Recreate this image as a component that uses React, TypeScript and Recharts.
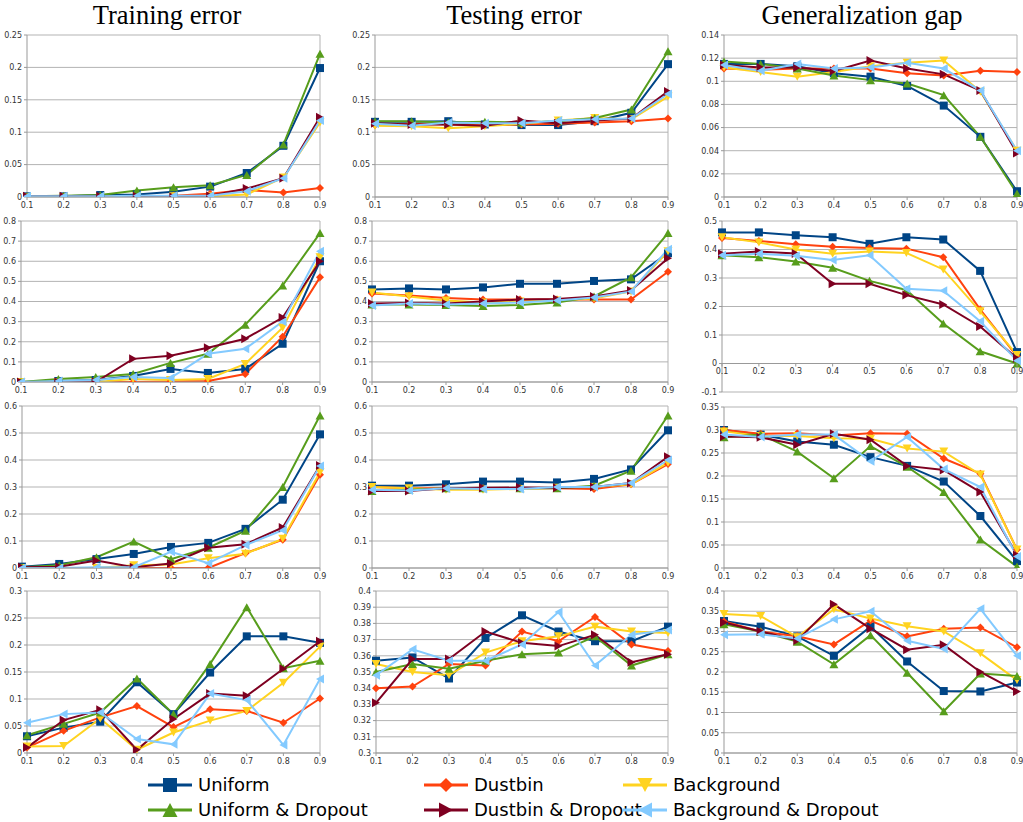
import React from 'react';
import { CartesianGrid, Line, LineChart, ReferenceLine, XAxis, YAxis } from 'recharts';

const xLabels = ['0.1', '0.2', '0.3', '0.4', '0.5', '0.6', '0.7', '0.8', '0.9'];

const seriesNames = [
  'Uniform',
  'Dustbin',
  'Background',
  'Uniform & Dropout',
  'Dustbin & Dropout',
  'Background & Dropout',
];
const seriesColors = ['#004586', '#ff420e', '#ffd320', '#579d1c', '#7e0021', '#83caff'];
const seriesShapes = ['square', 'diamond', 'down', 'up', 'right', 'left'];

const columnTitles = ['Training error', 'Testing error', 'Generalization gap'];

// each panel: one list per series, same order as seriesNames
const trainRow1 = [
  [0.001, 0.001, 0.003, 0.004, 0.008, 0.016, 0.037, 0.079, 0.199],
  [0.0, 0.0, 0.0, 0.0, 0.002, 0.005, 0.011, 0.007, 0.014],
  [0.0, 0.0, 0.0, 0.001, 0.001, 0.001, 0.004, 0.03, 0.115],
  [0.001, 0.002, 0.003, 0.01, 0.015, 0.018, 0.034, 0.081, 0.221],
  [0.001, 0.001, 0.001, 0.001, 0.0, 0.002, 0.013, 0.029, 0.123],
  [0.001, 0.001, 0.001, 0.002, 0.002, 0.002, 0.009, 0.029, 0.118],
];
const testRow1 = [
  [0.116, 0.116, 0.117, 0.112, 0.111, 0.111, 0.117, 0.13, 0.205],
  [0.111, 0.113, 0.112, 0.111, 0.112, 0.113, 0.115, 0.117, 0.121],
  [0.11, 0.109, 0.106, 0.109, 0.113, 0.118, 0.122, 0.12, 0.155],
  [0.117, 0.117, 0.115, 0.116, 0.115, 0.117, 0.122, 0.135, 0.225],
  [0.114, 0.112, 0.112, 0.11, 0.118, 0.114, 0.118, 0.121, 0.163],
  [0.113, 0.11, 0.115, 0.114, 0.114, 0.118, 0.12, 0.121, 0.159],
];
const gapRow1 = [
  [0.115, 0.115, 0.113, 0.107, 0.104, 0.096, 0.079, 0.052, 0.005],
  [0.111, 0.11, 0.111, 0.111, 0.111, 0.107, 0.105, 0.109, 0.108],
  [0.112, 0.108, 0.104, 0.108, 0.113, 0.116, 0.118, 0.091, 0.04],
  [0.117, 0.115, 0.111, 0.105, 0.101, 0.098, 0.088, 0.052, 0.003],
  [0.114, 0.112, 0.112, 0.109, 0.118, 0.111, 0.106, 0.092, 0.038],
  [0.114, 0.109, 0.115, 0.111, 0.112, 0.116, 0.111, 0.092, 0.04],
];

const trainRow2 = [
  [0.0, 0.005, 0.01, 0.03, 0.065, 0.045, 0.065, 0.19, 0.6],
  [0.0, 0.0, 0.0, 0.0, 0.003, 0.005, 0.04, 0.225, 0.52],
  [0.0, 0.0, 0.0, 0.015, 0.01, 0.015, 0.09, 0.27, 0.62],
  [0.0, 0.015, 0.025, 0.04, 0.095, 0.14, 0.285, 0.48, 0.74],
  [0.0, 0.0, 0.0, 0.115, 0.13, 0.17, 0.215, 0.32, 0.6],
  [0.0, 0.005, 0.01, 0.025, 0.02, 0.14, 0.165, 0.3, 0.65],
];
const testRow2 = [
  [0.46, 0.465, 0.46, 0.47, 0.488, 0.488, 0.502, 0.51, 0.64],
  [0.44, 0.43, 0.418, 0.41, 0.41, 0.41, 0.41, 0.41, 0.548],
  [0.445, 0.425, 0.405, 0.395, 0.4, 0.405, 0.415, 0.45, 0.65],
  [0.385, 0.385, 0.383, 0.378, 0.383, 0.395, 0.425, 0.52, 0.74],
  [0.39, 0.393, 0.39, 0.4, 0.41, 0.412, 0.425, 0.455, 0.615],
  [0.38, 0.39, 0.385, 0.39, 0.395, 0.405, 0.42, 0.45, 0.66],
];
const gapRow2 = [
  [0.46, 0.46, 0.45, 0.443, 0.42, 0.443, 0.435, 0.325, 0.04],
  [0.44, 0.43, 0.418, 0.41, 0.405, 0.403, 0.373, 0.19, 0.025],
  [0.443, 0.425, 0.4, 0.385, 0.393, 0.388, 0.33, 0.183, 0.03],
  [0.38, 0.373, 0.358, 0.336, 0.29, 0.258, 0.14, 0.043, 0.0],
  [0.385, 0.393, 0.386, 0.28, 0.28, 0.24, 0.207, 0.13, 0.018],
  [0.38, 0.385, 0.378, 0.363, 0.38, 0.262, 0.255, 0.148, 0.01],
];

const trainRow3 = [
  [0.005, 0.015, 0.033, 0.052, 0.078, 0.093, 0.145, 0.253, 0.495],
  [0.0, 0.0, 0.0, 0.0, 0.0, 0.0, 0.055, 0.105, 0.345],
  [0.0, 0.0, 0.0, 0.01, 0.013, 0.036, 0.053, 0.108, 0.355],
  [0.003, 0.01, 0.04, 0.098, 0.033, 0.075, 0.138, 0.3, 0.565],
  [0.003, 0.005, 0.028, 0.003, 0.017, 0.075, 0.088, 0.15, 0.38],
  [0.0, 0.0, 0.003, 0.003, 0.06, 0.018, 0.085, 0.14, 0.378],
];
const testRow3 = [
  [0.305, 0.305, 0.31, 0.32, 0.32, 0.317, 0.33, 0.365, 0.51],
  [0.3, 0.295, 0.295, 0.295, 0.295, 0.295, 0.293, 0.31, 0.385],
  [0.3, 0.295, 0.29, 0.29, 0.293, 0.297, 0.3, 0.31, 0.39],
  [0.285, 0.29, 0.295, 0.295, 0.295, 0.295, 0.305, 0.36, 0.565],
  [0.285, 0.285, 0.295, 0.297, 0.298, 0.297, 0.3, 0.315, 0.412],
  [0.29, 0.287, 0.295, 0.293, 0.293, 0.3, 0.3, 0.315, 0.4],
];
const gapRow3 = [
  [0.3, 0.29, 0.275, 0.268, 0.241, 0.222, 0.188, 0.113, 0.015],
  [0.3, 0.292, 0.293, 0.288, 0.293, 0.292, 0.238, 0.205, 0.04],
  [0.297, 0.287, 0.287, 0.282, 0.281, 0.26, 0.253, 0.203, 0.04],
  [0.284, 0.29, 0.253, 0.195, 0.265, 0.22, 0.165, 0.062, 0.003],
  [0.286, 0.284, 0.268, 0.292, 0.279, 0.222, 0.213, 0.165, 0.028],
  [0.29, 0.285, 0.29, 0.29, 0.232, 0.285, 0.215, 0.176, 0.025],
];

const trainRow4 = [
  [0.031, 0.047, 0.058, 0.131, 0.072, 0.149, 0.216, 0.216, 0.204],
  [0.01, 0.041, 0.066, 0.087, 0.048, 0.081, 0.078, 0.056, 0.101],
  [0.012, 0.013, 0.064, 0.006, 0.038, 0.06, 0.078, 0.13, 0.197],
  [0.033, 0.054, 0.075, 0.138, 0.072, 0.165, 0.27, 0.157, 0.171],
  [0.01, 0.061, 0.08, 0.006, 0.063, 0.11, 0.106, 0.156, 0.207],
  [0.056, 0.072, 0.075, 0.026, 0.016, 0.11, 0.098, 0.015, 0.137],
];
const testRow4 = [
  [0.357, 0.359, 0.346, 0.371, 0.385, 0.375, 0.369, 0.369, 0.378],
  [0.34, 0.341, 0.355, 0.354, 0.375, 0.369, 0.384, 0.367, 0.363],
  [0.355, 0.35, 0.348, 0.362, 0.369, 0.372, 0.378, 0.375, 0.374],
  [0.35, 0.355, 0.352, 0.357, 0.361, 0.362, 0.372, 0.354, 0.361],
  [0.331, 0.358, 0.358, 0.375, 0.368, 0.366, 0.373, 0.356, 0.361],
  [0.348, 0.364, 0.357, 0.357, 0.367, 0.387, 0.354, 0.373, 0.376],
];
const gapRow4 = [
  [0.326, 0.312, 0.288, 0.24, 0.312, 0.226, 0.153, 0.152, 0.174],
  [0.325, 0.3, 0.288, 0.268, 0.327, 0.288, 0.307, 0.31, 0.261],
  [0.343, 0.338, 0.286, 0.355, 0.332, 0.313, 0.3, 0.246, 0.18],
  [0.318, 0.3, 0.275, 0.219, 0.291, 0.198, 0.103, 0.196, 0.19],
  [0.322, 0.3, 0.278, 0.367, 0.307, 0.255, 0.267, 0.2, 0.152],
  [0.292, 0.293, 0.283, 0.33, 0.35, 0.277, 0.257, 0.356, 0.24],
];

const ticks025 = [0, 0.05, 0.1, 0.15, 0.2, 0.25];
const ticks014 = [0, 0.02, 0.04, 0.06, 0.08, 0.1, 0.12, 0.14];
const ticks08 = [0, 0.1, 0.2, 0.3, 0.4, 0.5, 0.6, 0.7, 0.8];
const ticksNeg05 = [-0.1, 0, 0.1, 0.2, 0.3, 0.4, 0.5];
const ticks06 = [0, 0.1, 0.2, 0.3, 0.4, 0.5, 0.6];
const ticks035 = [0, 0.05, 0.1, 0.15, 0.2, 0.25, 0.3, 0.35];
const ticks03 = [0, 0.05, 0.1, 0.15, 0.2, 0.25, 0.3];
const ticks04 = [0, 0.05, 0.1, 0.15, 0.2, 0.25, 0.3, 0.35, 0.4];
const ticks0304 = [0.3, 0.31, 0.32, 0.33, 0.34, 0.35, 0.36, 0.37, 0.38, 0.39, 0.4];

const GRID = '#b3b3b3';
const AXIS = '#999999';
const TEXT = '#333333';

function Marker({ shape, cx, cy, color, r = 4 }) {
  if (shape === 'square') {
    return <rect x={cx - r} y={cy - r} width={r * 2} height={r * 2} fill={color} />;
  }
  let pts;
  if (shape === 'diamond') pts = [[cx, cy - r], [cx + r, cy], [cx, cy + r], [cx - r, cy]];
  else if (shape === 'down') pts = [[cx - r - 0.5, cy - r], [cx + r + 0.5, cy - r], [cx, cy + r]];
  else if (shape === 'up') pts = [[cx - r - 0.5, cy + r], [cx + r + 0.5, cy + r], [cx, cy - r]];
  else if (shape === 'right') pts = [[cx - r, cy - r - 0.5], [cx - r, cy + r + 0.5], [cx + r, cy]];
  else pts = [[cx + r, cy - r - 0.5], [cx + r, cy + r + 0.5], [cx - r, cy]];
  return <polygon points={pts.map((p) => p.join(',')).join(' ')} fill={color} />;
}

const dotFor = (i) => (props) => {
  const { cx, cy, index } = props;
  if (cx == null || cy == null) return <g key={`d${i}-${index}`} />;
  return (
    <g key={`d${i}-${index}`}>
      <Marker shape={seriesShapes[i]} cx={cx} cy={cy} color={seriesColors[i]} />
    </g>
  );
};

const fmt = (v) => String(parseFloat(Number(v).toFixed(3)));

const Y_W = 30;
const TOP_PAD = 6;
const RIGHT_PAD = 8;
const X_H = 16;

function Panel({ plot, values, ticks }) {
  const [x1, y1, x2, y2] = plot;
  const data = xLabels.map((x, k) => {
    const row = { x };
    values.forEach((arr, i) => {
      row[`s${i}`] = arr[k];
    });
    return row;
  });
  const lo = ticks[0];
  const hi = ticks[ticks.length - 1];
  const plotH = y2 - y1;
  // x axis sits on the zero line when the range goes below zero
  const lift = lo < 0 ? (plotH * (0 - lo)) / (hi - lo) : 0;
  const width = x2 - x1 + Y_W + RIGHT_PAD;
  const height = plotH + TOP_PAD + X_H;

  const xTick = (p) => (
    <g>
      {lift > 0 && <line x1={p.x} x2={p.x} y1={y2 - lift - y1 + TOP_PAD} y2={y2 - lift - y1 + TOP_PAD + 3} stroke={AXIS} />}
      <text x={p.x} y={p.y - lift} dy="0.71em" textAnchor="middle" fontSize={8} fill={TEXT}>
        {p.payload.value}
      </text>
    </g>
  );

  return (
    <div style={{ position: 'absolute', left: x1 - Y_W, top: y1 - TOP_PAD }}>
      <LineChart width={width} height={height} data={data} margin={{ top: TOP_PAD, right: RIGHT_PAD, left: 0, bottom: 0 }}>
        <CartesianGrid stroke={GRID} vertical={false} />
        <XAxis
          dataKey="x"
          height={X_H}
          tick={xTick}
          tickSize={3}
          tickMargin={2}
          tickLine={lift > 0 ? false : { stroke: AXIS }}
          axisLine={lift > 0 ? false : { stroke: AXIS }}
          interval={0}
        />
        <YAxis
          width={Y_W}
          domain={[lo, hi]}
          ticks={ticks}
          type="number"
          allowDataOverflow
          tickFormatter={fmt}
          tick={{ fontSize: 8, fill: TEXT }}
          tickSize={3}
          tickMargin={2}
          tickLine={{ stroke: AXIS }}
          axisLine={{ stroke: AXIS }}
          interval={0}
        />
        <ReferenceLine x="0.9" stroke={GRID} />
        {lift > 0 && <ReferenceLine y={0} stroke={AXIS} />}
        {values.map((_, i) => (
          <Line
            key={i}
            dataKey={`s${i}`}
            type="linear"
            stroke={seriesColors[i]}
            strokeWidth={2}
            dot={dotFor(i)}
            activeDot={false}
            isAnimationActive={false}
          />
        ))}
      </LineChart>
    </div>
  );
}

const panels = [
  { plot: [27, 35, 320, 197], values: trainRow1, ticks: ticks025 },
  { plot: [375, 35, 668, 197], values: testRow1, ticks: ticks025 },
  { plot: [724, 35, 1017, 197], values: gapRow1, ticks: ticks014 },
  { plot: [21, 221, 320, 382], values: trainRow2, ticks: ticks08 },
  { plot: [372, 221, 668, 382], values: testRow2, ticks: ticks08 },
  { plot: [722, 221, 1017, 392], values: gapRow2, ticks: ticksNeg05 },
  { plot: [22, 406, 320, 568], values: trainRow3, ticks: ticks06 },
  { plot: [372, 406, 668, 568], values: testRow3, ticks: ticks06 },
  { plot: [724, 407, 1017, 568], values: gapRow3, ticks: ticks035 },
  { plot: [27, 591, 320, 753], values: trainRow4, ticks: ticks03 },
  { plot: [376, 591, 668, 753], values: testRow4, ticks: ticks0304 },
  { plot: [724, 591, 1017, 753], values: gapRow4, ticks: ticks04 },
];

const titleCenters = [167, 514, 862];
const legendCols = [148, 424, 623];
const legendRows = [785, 810];

function Legend() {
  return (
    <svg width={1023} height={60} style={{ position: 'absolute', left: 0, top: 768 }}>
      {seriesNames.map((name, i) => {
        const x = legendCols[i % 3];
        const y = legendRows[Math.floor(i / 3)] - 768;
        return (
          <g key={name}>
            <line x1={x} x2={x + 44} y1={y} y2={y} stroke={seriesColors[i]} strokeWidth={3} />
            <Marker shape={seriesShapes[i]} cx={x + 22} cy={y} color={seriesColors[i]} r={7} />
            <text x={x + 50} y={y} dy="0.36em" fontSize={18} fill="#000">
              {name}
            </text>
          </g>
        );
      })}
    </svg>
  );
}

export default function App() {
  return (
    <div
      style={{
        position: 'absolute',
        left: 0,
        top: 0,
        width: 1023,
        height: 822,
        overflow: 'hidden',
        background: '#fff',
        fontFamily: '"DejaVu Sans", sans-serif',
      }}
    >
      {columnTitles.map((t, i) => (
        <div
          key={t}
          style={{
            position: 'absolute',
            left: titleCenters[i] - 150,
            width: 300,
            top: -1,
            textAlign: 'center',
            fontFamily: '"Liberation Serif", serif',
            fontSize: 26.5,
            lineHeight: '32px',
          }}
        >
          {t}
        </div>
      ))}
      {panels.map((p, i) => (
        <Panel key={i} plot={p.plot} values={p.values} ticks={p.ticks} />
      ))}
      <Legend />
    </div>
  );
}
